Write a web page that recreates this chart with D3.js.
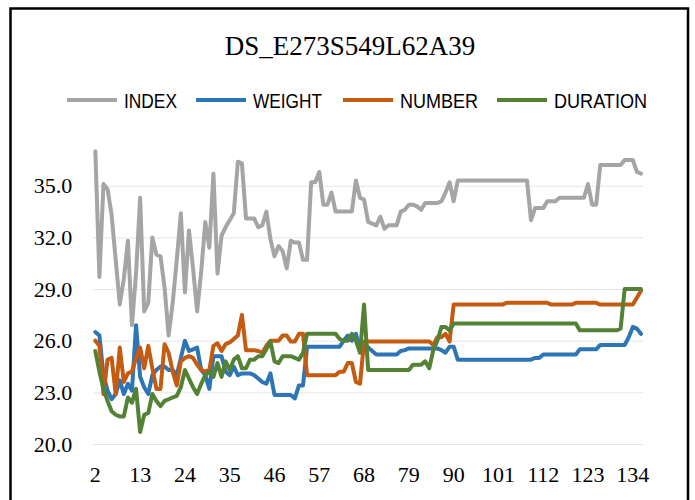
<!DOCTYPE html>
<html>
<head>
<meta charset="utf-8">
<script src="https://cdn.jsdelivr.net/npm/d3@7/dist/d3.min.js"></script>
<style>
  html, body { margin: 0; padding: 0; background: #fff; }
  svg { display: block; }
</style>
</head>
<body>
<svg id="chart" width="695" height="500"></svg>
<script>
// ---------- data ----------
const categories = d3.range(2, 137); // 2 .. 136
const tickLabels = [2, 13, 24, 35, 46, 57, 68, 79, 90, 101, 112, 123, 134];
const yTicks = [20, 23, 26, 29, 32, 35];
const seriesNames = ["INDEX", "WEIGHT", "NUMBER", "DURATION"];

const rep = (v, n) => Array(n).fill(v);

const indexValues = [
  37.0, 29.7, 35.1, 34.8, 33.3, 30.7, 28.1, 29.6, 31.8, 26.9,
  29.9, 34.3, 27.7, 28.2, 32.0, 31.0, 30.9, 29.1, 26.3, 28.2,
  30.7, 33.4, 28.8, 32.4, 30.2, 27.7, 30.0, 32.9, 31.4, 35.7,
  29.9, 32.1, 32.6, 33.0, 33.4, 36.4, 36.3, 33.1, 33.1, 33.1,
  32.6, 32.7, 33.5, 31.9, 30.9, 31.5, 31.2, 30.2, 31.8, 31.7,
  31.7, 30.7, 30.7, 35.2, 35.2, 35.8, 33.9, 33.9, 34.6, 33.5,
  33.5, 33.5, 33.5, 33.5, 35.3, 34.3, 34.2, 32.9, 32.8, 32.7,
  33.2, 32.5, 32.7, 32.7, 32.7, 33.5, 33.6, 33.9, 33.9, 33.8,
  33.6, 34.0, 34.0, 34.0, 34.0, 34.1, 34.6, 35.2, 34.1,
  ...rep(35.3, 18),
  33.0, 33.7, 33.7, 33.7, 34.1, 34.1, 34.1, 34.3,
  ...rep(34.3, 6),
  35.1, 33.9, 33.9, 36.2, 36.2, 36.2, 36.2, 36.2, 36.2,
  36.5, 36.5, 36.5, 35.8, 35.7
];

const weightValues = [
  26.5, 26.3, 24.0, 23.1, 22.6, 22.9, 23.7, 22.9, 23.5, 23.1,
  26.9, 23.9, 23.3, 22.9, 24.0, 24.3, 24.5, 24.5, 24.3, 24.3,
  24.0, 25.0, 26.0, 25.4, 25.5, 25.6, 24.3, 24.0, 23.2, 25.1,
  25.1, 25.1, 24.2, 24.0, 24.5, 24.0, 24.1, 24.1, 24.1, 24.0,
  23.8, 23.6, 23.5, 24.1, 22.85, 22.85, 22.85, 22.85, 22.85, 22.65,
  23.4, 23.4, 25.65,
  ...rep(25.65, 8),
  26.0, 26.3, 26.0, 26.4, 25.4, 25.9, 25.6, 25.4, 25.2,
  ...rep(25.2, 5),
  25.4, 25.45, 25.55,
  ...rep(25.55, 7),
  25.45, 25.3, 25.65, 25.65, 24.9,
  ...rep(24.9, 18),
  25.0, 25.0,
  ...rep(25.2, 9),
  ...rep(25.5, 5),
  ...rep(25.75, 7),
  26.2, 26.8, 26.7, 26.4
];

const numberValues = [
  26.0, 25.7, 22.9, 24.9, 25.0, 22.9, 25.6, 23.6, 24.1, 24.2,
  25.0, 25.6, 24.4, 25.7, 24.4, 23.2, 23.2, 25.8, 25.3, 24.2,
  23.4, 24.8, 25.0, 25.1, 25.0, 24.6, 24.3, 24.2, 24.3, 25.7,
  25.85, 25.4, 25.8, 25.9, 26.1, 26.3, 27.5, 25.45, 25.45, 25.45,
  25.4, 25.3, 25.7, 26.0, 26.0, 26.0, 26.3, 26.3, 25.95, 25.95,
  26.4, 26.4,
  ...rep(24.0, 8),
  24.2, 24.2, 24.7, 24.7, 23.6, 23.5, 25.95,
  ...rep(25.95, 16),
  25.75, 26.2, 26.2, 26.4, 25.95, 28.1,
  ...rep(28.1, 12),
  ...rep(28.2, 11),
  ...rep(28.1, 6),
  ...rep(28.2, 6),
  ...rep(28.1, 9),
  28.5, 28.9
];

const durationValues = [
  25.4, 24.2, 23.2, 22.5, 21.9, 21.7, 21.6, 21.6, 22.7, 22.4,
  23.2, 20.7, 21.7, 21.8, 22.9, 22.5, 22.2, 22.5, 22.6, 22.7,
  22.8, 23.3, 24.3, 23.8, 23.3, 22.9, 23.5, 24.0, 24.2, 23.9,
  24.7, 23.9, 24.8, 24.3, 24.9, 25.1, 24.4, 24.4, 24.9, 24.9,
  25.1, 25.1, 25.5, 25.95, 24.8, 24.7, 25.1, 25.1, 25.1, 25.0,
  24.9, 25.3, 26.4,
  ...rep(26.4, 7),
  26.1, 26.0, 26.0, 26.4, 26.0, 25.3, 28.1, 24.3,
  ...rep(24.3, 10),
  24.6, 24.6, 24.6, 24.8, 24.4, 25.45, 26.0, 26.8, 26.8, 26.6, 27.0,
  ...rep(27.0, 30),
  26.6,
  ...rep(26.6, 9),
  26.7, 29.0,
  ...rep(29.0, 4)
];

const seriesValues = [indexValues, weightValues, numberValues, durationValues];
const colors = ["#A5A5A5", "#2E75B6", "#C55A11", "#548235"];

// ---------- layout ----------
const svg = d3.select("#chart");
const plot = { left: 93.3, right: 643, top: 151.3, bottom: 444 };

const x = d3.scaleBand().domain(categories).range([plot.left, plot.right]);
const y = d3.scaleLinear().domain([20, 37]).range([plot.bottom, plot.top]);
const cx = c => x(c) + x.bandwidth() / 2;

// border
svg.append("rect")
  .attr("x", 10.5).attr("y", 8.5)
  .attr("width", 677.5).attr("height", 520)
  .attr("fill", "#fff").attr("stroke", "#000").attr("stroke-width", 2.5);

// title
svg.append("text")
  .attr("x", 350).attr("y", 55)
  .attr("text-anchor", "middle")
  .attr("font-family", "'Liberation Serif', 'Times New Roman', serif")
  .attr("font-size", 27)
  .attr("fill", "#000")
  .text("DS_E273S549L62A39");

// gridlines + y labels
const yAxis = d3.axisLeft(y).tickValues(yTicks)
  .tickSize(-(plot.right - plot.left)).tickPadding(21)
  .tickFormat(d3.format(".1f"));
const gy = svg.append("g").attr("transform", `translate(${plot.left},0)`).call(yAxis);
gy.select(".domain").remove();
gy.selectAll(".tick line").attr("stroke", "#e6e6e6").attr("stroke-width", 1);
gy.selectAll(".tick text")
  .attr("font-family", "'Liberation Serif', 'Times New Roman', serif")
  .attr("font-size", 22).attr("fill", "#000");

// x axis labels
const xAxis = d3.axisBottom(x).tickValues(tickLabels).tickSize(0).tickPadding(22);
const gx = svg.append("g").attr("transform", `translate(0,${plot.bottom})`).call(xAxis);
gx.select(".domain").remove();
gx.selectAll(".tick text")
  .attr("font-family", "'Liberation Serif', 'Times New Roman', serif")
  .attr("font-size", 22).attr("fill", "#000");

// lines
const line = d3.line().x((d, i) => cx(categories[i])).y(d => y(d));
seriesValues.forEach((vals, k) => {
  svg.append("path")
    .datum(vals)
    .attr("d", line)
    .attr("fill", "none")
    .attr("stroke", colors[k])
    .attr("stroke-width", 4)
    .attr("stroke-linejoin", "round")
    .attr("stroke-linecap", "round");
});

// legend (narrow sans text)
const legendX = [67, 196, 343, 497];
const legendTextW = [53, 69, 78, 93];
const legY = 100;
seriesNames.forEach((name, k) => {
  const g = svg.append("g").attr("transform", `translate(${legendX[k]},${legY})`);
  g.append("line").attr("x1", 0).attr("x2", 50).attr("y1", 0).attr("y2", 0)
    .attr("stroke", colors[k]).attr("stroke-width", 4);
  g.append("text").attr("x", 57).attr("y", 7.5)
    .attr("font-family", "'Liberation Sans', Arial, sans-serif")
    .attr("font-size", 21).attr("fill", "#000")
    .attr("textLength", legendTextW[k])
    .attr("lengthAdjust", "spacingAndGlyphs")
    .text(name);
});
</script>
</body>
</html>
